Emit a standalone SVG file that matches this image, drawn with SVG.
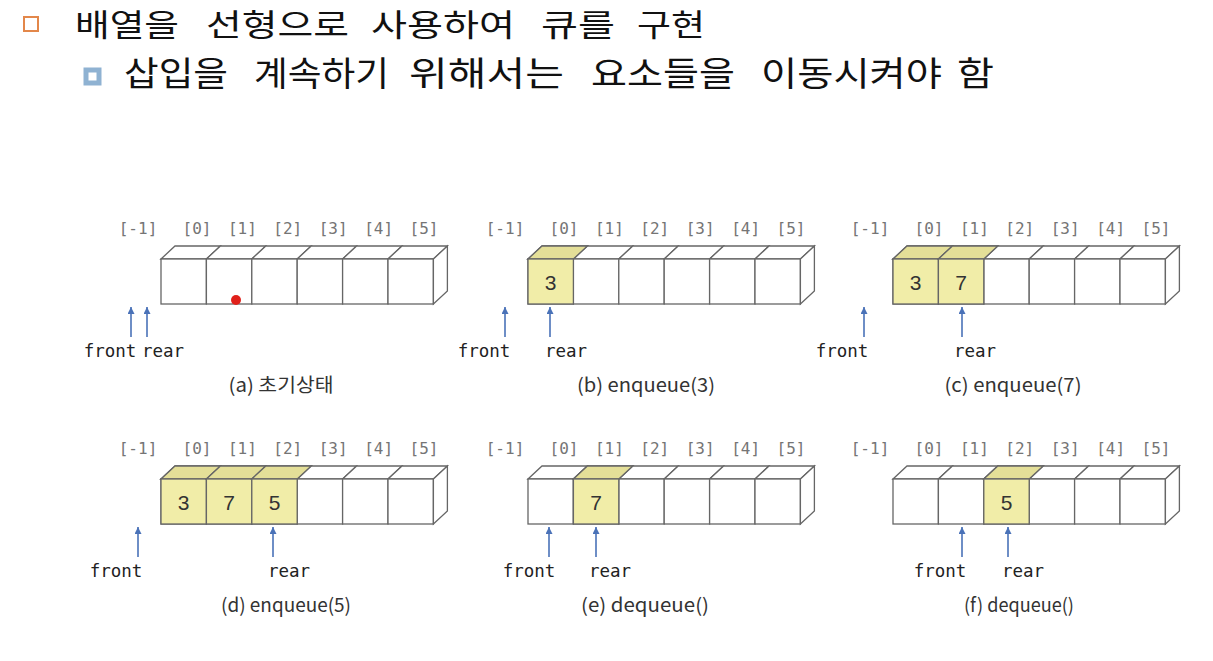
<svg xmlns="http://www.w3.org/2000/svg" width="1213" height="661" viewBox="0 0 1213 661">
<style>
.hd{font-family:"Noto Sans CJK KR","Noto Sans",sans-serif;font-size:34px;fill:#111}
.h1{font-size:31px}
.idx{font-family:"DejaVu Sans Mono","Liberation Mono",monospace;font-size:16px;fill:#757575;text-anchor:middle}
.ptr{font-family:"DejaVu Sans Mono","Liberation Mono",monospace;font-size:17.5px;fill:#222;text-anchor:middle}
.cap{font-family:"Noto Sans CJK KR","Noto Sans",sans-serif;font-size:19px;fill:#333;text-anchor:middle}
.num{font-family:"Liberation Sans","Noto Sans",sans-serif;font-size:21px;fill:#333;text-anchor:middle}
.c{fill:#fff;stroke:#666;stroke-width:1.3}
.y{fill:#f1eda8;stroke:#666;stroke-width:1.3}
.yt{fill:#e4df98;stroke:#666;stroke-width:1.3}
.arr{stroke:#4a72b8;stroke-width:1.6;fill:none;marker-end:url(#ah)}
</style>
<defs>
<marker id="ah" viewBox="0 0 10 10" refX="10" refY="5" markerWidth="9" markerHeight="7" markerUnits="userSpaceOnUse" orient="auto">
<path d="M0,0 L10,5 L0,10 Z" fill="#4a72b8"/>
</marker>
<g id="idxrow">
<text class="idx" x="-23" y="-25">[-1]</text>
<text class="idx" x="36" y="-25">[0]</text>
<text class="idx" x="81.4" y="-25">[1]</text>
<text class="idx" x="126.8" y="-25">[2]</text>
<text class="idx" x="172.2" y="-25">[3]</text>
<text class="idx" x="217.6" y="-25">[4]</text>
<text class="idx" x="263" y="-25">[5]</text>
</g>
<g id="arrwhite">
<path class="c" d="M0,0 l14,-13 h45.4 l-14,13 Z"/>
<path class="c" d="M45.4,0 l14,-13 h45.4 l-14,13 Z"/>
<path class="c" d="M90.8,0 l14,-13 h45.4 l-14,13 Z"/>
<path class="c" d="M136.2,0 l14,-13 h45.4 l-14,13 Z"/>
<path class="c" d="M181.6,0 l14,-13 h45.4 l-14,13 Z"/>
<path class="c" d="M227,0 l14,-13 h45.4 l-14,13 Z"/>
<rect class="c" x="0" y="0" width="45.4" height="45"/>
<rect class="c" x="45.4" y="0" width="45.4" height="45"/>
<rect class="c" x="90.8" y="0" width="45.4" height="45"/>
<rect class="c" x="136.2" y="0" width="45.4" height="45"/>
<rect class="c" x="181.6" y="0" width="45.4" height="45"/>
<rect class="c" x="227" y="0" width="45.4" height="45"/>
<path class="c" d="M272.4,0 l14,-13 v45 l-14,13 Z"/>
</g>
<g id="y0"><path class="yt" d="M0,0 l14,-13 h45.4 l-14,13 Z"/><rect class="y" x="0" y="0" width="45.4" height="45"/></g>
<g id="y1"><path class="yt" d="M45.4,0 l14,-13 h45.4 l-14,13 Z"/><rect class="y" x="45.4" y="0" width="45.4" height="45"/></g>
<g id="y2"><path class="yt" d="M90.8,0 l14,-13 h45.4 l-14,13 Z"/><rect class="y" x="90.8" y="0" width="45.4" height="45"/></g>
</defs>

<g id="header">
<rect x="24" y="17" width="14" height="14" fill="#fff" stroke="#e3874a" stroke-width="2"/>
<text class="hd h1" x="75" y="36" textLength="104" lengthAdjust="spacingAndGlyphs">배열을</text>
<text class="hd h1" x="206" y="36" textLength="143" lengthAdjust="spacingAndGlyphs">선형으로</text>
<text class="hd h1" x="371" y="36" textLength="144" lengthAdjust="spacingAndGlyphs">사용하여</text>
<text class="hd h1" x="541" y="36" textLength="74" lengthAdjust="spacingAndGlyphs">큐를</text>
<text class="hd h1" x="637" y="36" textLength="68" lengthAdjust="spacingAndGlyphs">구현</text>
<rect x="86" y="70" width="13" height="13" fill="#fff" stroke="#8fb2d2" stroke-width="5"/>
<text class="hd" x="124" y="86" textLength="104" lengthAdjust="spacingAndGlyphs">삽입을</text>
<text class="hd" x="254" y="86" textLength="135" lengthAdjust="spacingAndGlyphs">계속하기</text>
<text class="hd" x="409" y="86" textLength="155" lengthAdjust="spacingAndGlyphs">위해서는</text>
<text class="hd" x="591" y="86" textLength="144" lengthAdjust="spacingAndGlyphs">요소들을</text>
<text class="hd" x="761" y="86" textLength="181" lengthAdjust="spacingAndGlyphs">이동시켜야</text>
<text class="hd" x="957" y="86" textLength="37" lengthAdjust="spacingAndGlyphs">함</text>
</g>

<g id="panel-a" transform="translate(161,259)">
<use href="#idxrow"/>
<use href="#arrwhite"/>
<circle cx="75" cy="41" r="5" fill="#e0201a"/>
<text class="ptr" x="-51" y="98">front</text>
<text class="ptr" x="2" y="98">rear</text>
<text class="cap" x="120" y="133" textLength="105" lengthAdjust="spacingAndGlyphs">(a) 초기상태</text>
</g>

<g id="panel-b" transform="translate(528,259)">
<use href="#idxrow"/>
<use href="#arrwhite"/>
<use href="#y0"/>
<text class="num" x="22.7" y="31">3</text>
<text class="ptr" x="-44" y="98">front</text>
<text class="ptr" x="38" y="98">rear</text>
<text class="cap" x="118" y="133" textLength="138" lengthAdjust="spacingAndGlyphs">(b) enqueue(3)</text>
</g>

<g id="panel-c" transform="translate(893,259)">
<use href="#idxrow"/>
<use href="#arrwhite"/>
<use href="#y0"/>
<use href="#y1"/>
<text class="num" x="22.7" y="31">3</text>
<text class="num" x="68.1" y="31">7</text>
<text class="ptr" x="-51" y="98">front</text>
<text class="ptr" x="82" y="98">rear</text>
<text class="cap" x="120" y="133" textLength="137" lengthAdjust="spacingAndGlyphs">(c) enqueue(7)</text>
</g>

<g id="panel-d" transform="translate(161,479)">
<use href="#idxrow"/>
<use href="#arrwhite"/>
<use href="#y0"/>
<use href="#y1"/>
<use href="#y2"/>
<text class="num" x="22.7" y="31">3</text>
<text class="num" x="68.1" y="31">7</text>
<text class="num" x="113.5" y="31">5</text>
<text class="ptr" x="-45" y="98">front</text>
<text class="ptr" x="128" y="98">rear</text>
<text class="cap" x="125" y="133" textLength="130" lengthAdjust="spacingAndGlyphs">(d) enqueue(5)</text>
</g>

<g id="panel-e" transform="translate(528,479)">
<use href="#idxrow"/>
<use href="#arrwhite"/>
<use href="#y1"/>
<text class="num" x="68.1" y="31">7</text>
<text class="ptr" x="1" y="98">front</text>
<text class="ptr" x="82" y="98">rear</text>
<text class="cap" x="117" y="133" textLength="128" lengthAdjust="spacingAndGlyphs">(e) dequeue()</text>
</g>

<g id="panel-f" transform="translate(893,479)">
<use href="#idxrow"/>
<use href="#arrwhite"/>
<use href="#y2"/>
<text class="num" x="113.5" y="31">5</text>
<text class="ptr" x="47" y="98">front</text>
<text class="ptr" x="130" y="98">rear</text>
<text class="cap" x="126" y="133" textLength="110" lengthAdjust="spacingAndGlyphs">(f) dequeue()</text>
</g>

<g id="connectors">
<path class="arr" d="M131,337 V307"/>
<path class="arr" d="M147,337 V307"/>
<path class="arr" d="M505,337 V307"/>
<path class="arr" d="M550,337 V307"/>
<path class="arr" d="M864,337 V307"/>
<path class="arr" d="M962,337 V307"/>
<path class="arr" d="M138,557 V527"/>
<path class="arr" d="M273,557 V527"/>
<path class="arr" d="M549,557 V527"/>
<path class="arr" d="M596,557 V527"/>
<path class="arr" d="M962,557 V527"/>
<path class="arr" d="M1008,557 V527"/>
</g>
</svg>
